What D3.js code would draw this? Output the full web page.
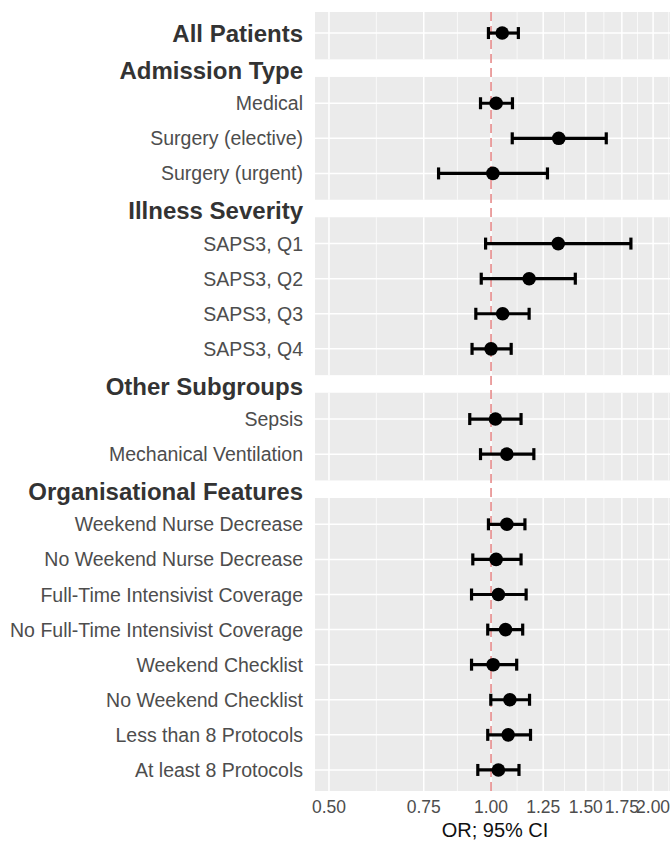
<!DOCTYPE html>
<html>
<head>
    <title>Forest Plot</title>
    <script src="https://d3js.org/d3.v7.min.js"></script>
    <style>
        body { margin: 0; background: #fff; }
        text { font-family: "Liberation Sans", Arial, sans-serif; }
    </style>
</head>
<body>
<svg width="670" height="842"></svg>
<script>
    const subgroups = [
        "All Patients",
        "Medical", "Surgery (elective)", "Surgery (urgent)",
        "SAPS3, Q1", "SAPS3, Q2", "SAPS3, Q3", "SAPS3, Q4",
        "Sepsis", "Mechanical Ventilation",
        "Weekend Nurse Decrease", "No Weekend Nurse Decrease",
        "Full-Time Intensivist Coverage", "No Full-Time Intensivist Coverage",
        "Weekend Checklist", "No Weekend Checklist",
        "Less than 8 Protocols", "At least 8 Protocols"
    ];
    const orValues = [1.049, 1.022, 1.336, 1.008, 1.333, 1.177, 1.051, 1.000,
        1.019, 1.070, 1.070, 1.022, 1.032, 1.064, 1.009, 1.084, 1.076, 1.032];
    const ciLower = [0.989, 0.956, 1.095, 0.799, 0.977, 0.959, 0.937, 0.922,
        0.913, 0.956, 0.989, 0.925, 0.920, 0.986, 0.920, 0.999, 0.986, 0.945];
    const ciUpper = [1.124, 1.096, 1.637, 1.273, 1.819, 1.434, 1.177, 1.090,
        1.137, 1.201, 1.156, 1.137, 1.162, 1.145, 1.116, 1.179, 1.184, 1.127];

    // section headers and the subgroup each one comes before
    const sections = ["Admission Type", "Illness Severity", "Other Subgroups", "Organisational Features"];
    const sectionStarts = ["Medical", "SAPS3, Q1", "Sepsis", "Weekend Nurse Decrease"];

    const xTicks = [0.5, 0.75, 1, 1.25, 1.5, 1.75, 2];

    const width = 670;
    const height = 842;
    const svg = d3.select("svg");

    // row order with headers inserted
    const rows = [];
    subgroups.forEach(s => {
        const k = sectionStarts.indexOf(s);
        if (k >= 0) rows.push(sections[k]);
        rows.push(s);
    });

    const y = d3.scalePoint().domain(rows).range([12, 791]).padding(0.6);
    const step = y.step();
    const x = d3.scaleLog().domain([0.471, 2.15]).range([315, width]);

    // panels: split at section headers
    const panels = [];
    let panelTop = y.range()[0];
    sections.forEach(h => {
        panels.push([panelTop, y(h) - step * 0.25]);
        panelTop = y(h) + step * 0.25;
    });
    panels.push([panelTop, y.range()[1]]);

    svg.append("g").selectAll("rect")
        .data(panels).enter().append("rect")
        .attr("x", x.range()[0])
        .attr("width", x.range()[1] - x.range()[0])
        .attr("y", d => d[0])
        .attr("height", d => d[1] - d[0])
        .attr("fill", "#EBEBEB");

    // minor grid (log-space midpoints)
    const minor = [];
    for (let i = 0; i < xTicks.length - 1; i++) minor.push(Math.sqrt(xTicks[i] * xTicks[i + 1]));
    const last = xTicks[xTicks.length - 1], prev = xTicks[xTicks.length - 2];
    minor.push(last * Math.sqrt(last / prev));

    const grid = svg.append("g");
    panels.forEach(p => {
        grid.selectAll(null)
            .data(minor.filter(v => x(v) <= width)).enter().append("line")
            .attr("x1", d => x(d)).attr("x2", d => x(d))
            .attr("y1", p[0]).attr("y2", p[1])
            .attr("stroke", "#fff").attr("stroke-width", 0.7);
        grid.selectAll(null)
            .data(xTicks).enter().append("line")
            .attr("x1", d => x(d)).attr("x2", d => x(d))
            .attr("y1", p[0]).attr("y2", p[1])
            .attr("stroke", "#fff").attr("stroke-width", 1.5);
    });
    grid.selectAll(null)
        .data(subgroups).enter().append("line")
        .attr("x1", x.range()[0]).attr("x2", x.range()[1])
        .attr("y1", d => y(d)).attr("y2", d => y(d))
        .attr("stroke", "#fff").attr("stroke-width", 1.5);

    // reference line at OR = 1
    svg.append("line")
        .attr("x1", x(1)).attr("x2", x(1))
        .attr("y1", y.range()[0]).attr("y2", y.range()[1])
        .attr("stroke", "#E07070")
        .attr("stroke-width", 1.3)
        .attr("stroke-dasharray", "9,5");

    // error bars and points
    const marks = svg.append("g").selectAll("g")
        .data(subgroups).enter().append("g");
    const capH = 6;
    marks.append("line")
        .attr("x1", (d, i) => x(ciLower[i])).attr("x2", (d, i) => x(ciUpper[i]))
        .attr("y1", d => y(d)).attr("y2", d => y(d))
        .attr("stroke", "#000").attr("stroke-width", 3.2);
    marks.append("line")
        .attr("x1", (d, i) => x(ciLower[i])).attr("x2", (d, i) => x(ciLower[i]))
        .attr("y1", d => y(d) - capH).attr("y2", d => y(d) + capH)
        .attr("stroke", "#000").attr("stroke-width", 3.2);
    marks.append("line")
        .attr("x1", (d, i) => x(ciUpper[i])).attr("x2", (d, i) => x(ciUpper[i]))
        .attr("y1", d => y(d) - capH).attr("y2", d => y(d) + capH)
        .attr("stroke", "#000").attr("stroke-width", 3.2);
    marks.append("circle")
        .attr("cx", (d, i) => x(orValues[i]))
        .attr("cy", d => y(d))
        .attr("r", 6.8)
        .attr("fill", "#000");

    // row labels
    const bold = ["All Patients"].concat(sections);
    svg.append("g").selectAll("text")
        .data(rows).enter().append("text")
        .attr("x", 303)
        .attr("y", d => y(d) + (sections.includes(d) ? 2 : 0))
        .attr("dy", "0.36em")
        .attr("text-anchor", "end")
        .attr("fill", d => bold.includes(d) ? "#333" : "#4D4D4D")
        .style("font-size", d => bold.includes(d) ? "24px" : "19.5px")
        .style("font-weight", d => bold.includes(d) ? "bold" : "normal")
        .text(d => d);

    // x axis labels
    svg.append("g").selectAll("text")
        .data(xTicks).enter().append("text")
        .attr("x", d => x(d))
        .attr("y", 807)
        .attr("dy", "0.36em")
        .attr("text-anchor", "middle")
        .attr("fill", "#4D4D4D")
        .style("font-size", "17.5px")
        .text(d => d3.format(".2f")(d));

    svg.append("text")
        .attr("x", x(1) + 4)
        .attr("y", 830)
        .attr("dy", "0.36em")
        .attr("text-anchor", "middle")
        .attr("fill", "#111")
        .style("font-size", "20px")
        .text("OR; 95% CI");
</script>
</body>
</html>
